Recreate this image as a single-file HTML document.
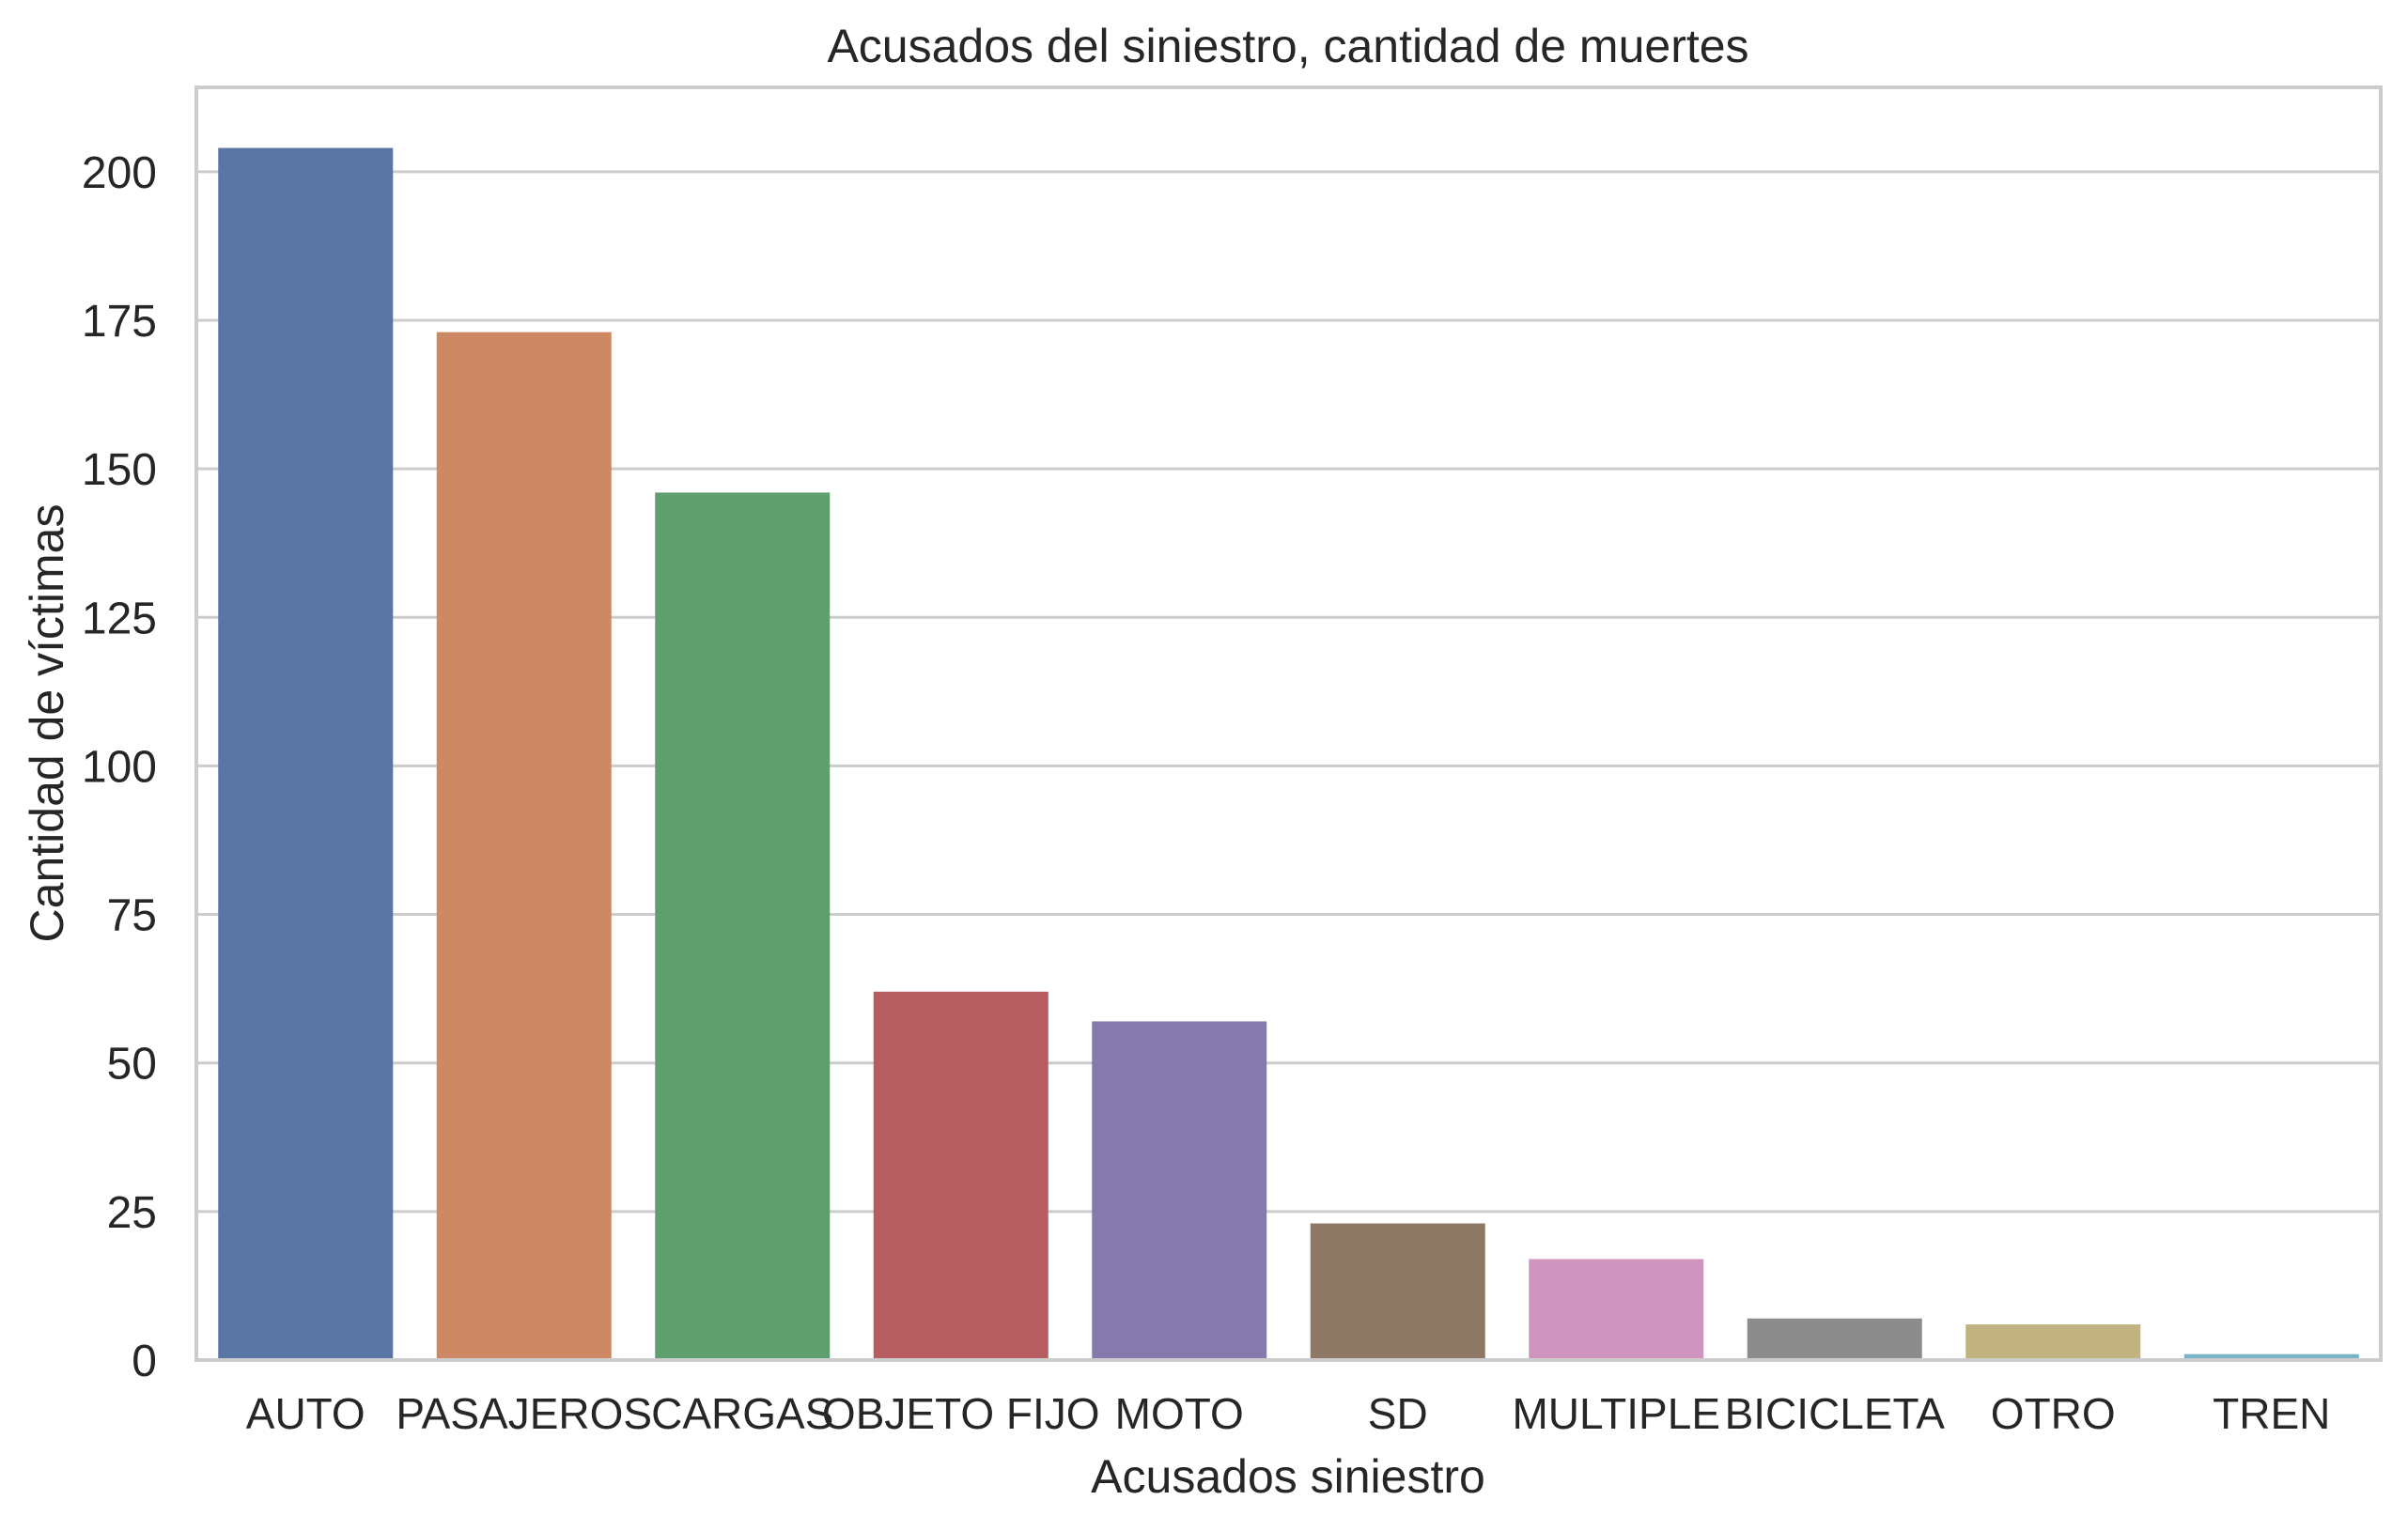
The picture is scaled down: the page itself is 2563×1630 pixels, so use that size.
<!DOCTYPE html>
<html><head><meta charset="utf-8"><style>
html,body{margin:0;padding:0;background:#fff;}
svg text{font-family:"Liberation Sans",sans-serif;fill:#262626;}
</style></head><body>
<svg id="chart" width="2563" height="1625" viewBox="0 0 2563 1625" xmlns="http://www.w3.org/2000/svg">
<rect width="2563" height="1625" fill="#fff"/>
<g id="grid"></g><g id="bars"></g><g id="ticks"></g>
<rect x="209" y="93" width="2325" height="1355" fill="none" stroke="#cccccc" stroke-width="4"/>
<text x="1371" y="66" font-size="50" text-anchor="middle">Acusados del siniestro, cantidad de muertes</text>
<text x="1371" y="1589" font-size="50" text-anchor="middle">Acusados siniestro</text>
<text transform="translate(67,770) rotate(-90)" font-size="50" text-anchor="middle">Cantidad de víctimas</text>
</svg>
<script>
const categories = ["AUTO","PASAJEROS","CARGAS","OBJETO FIJO","MOTO","SD","MULTIPLE","BICICLETA","OTRO","TREN"];
const values = [204,173,146,62,57,23,17,7,6,1];
const colors = ["#5975a4","#cc8963","#5f9e6e","#b55d60","#857aab","#8d7866","#d095bf","#8c8c8c","#c1b37f","#79b3c8"];
const yTicks = [0,25,50,75,100,125,150,175,200];
const NS="http://www.w3.org/2000/svg";
const L=209,R=2534,T=93,B=1448,YMAX=214.2;
const y=v=>B-(v/YMAX)*(B-T);
const step=(R-L)/categories.length;
const xc=i=>L+step*(i+0.5);
const grid=document.getElementById('grid'),bars=document.getElementById('bars'),ticks=document.getElementById('ticks');
function mk(tag,attrs,parent){const e=document.createElementNS(NS,tag);for(const k in attrs)e.setAttribute(k,attrs[k]);parent.appendChild(e);return e;}
yTicks.forEach(t=>{
  const g=mk('line',{x1:L,x2:R,y1:y(t),y2:y(t),stroke:'#cccccc','stroke-width':3},grid);
  
  
  const tx=mk('text',{x:L-42,y:y(t)+17,'font-size':'48','text-anchor':'end'},ticks);
  tx.textContent=t;
  
  
});
categories.forEach((c,i)=>{
  const w=step*0.8;
  const r=mk('rect',{x:xc(i)-w/2,y:y(values[i]),width:w,height:B-y(values[i]),fill:colors[i]},bars);
  
  
  const tx=mk('text',{x:xc(i),y:1521,'font-size':'46','text-anchor':'middle'},ticks);
  tx.textContent=c;
  
  
});
</script>
</body></html>
